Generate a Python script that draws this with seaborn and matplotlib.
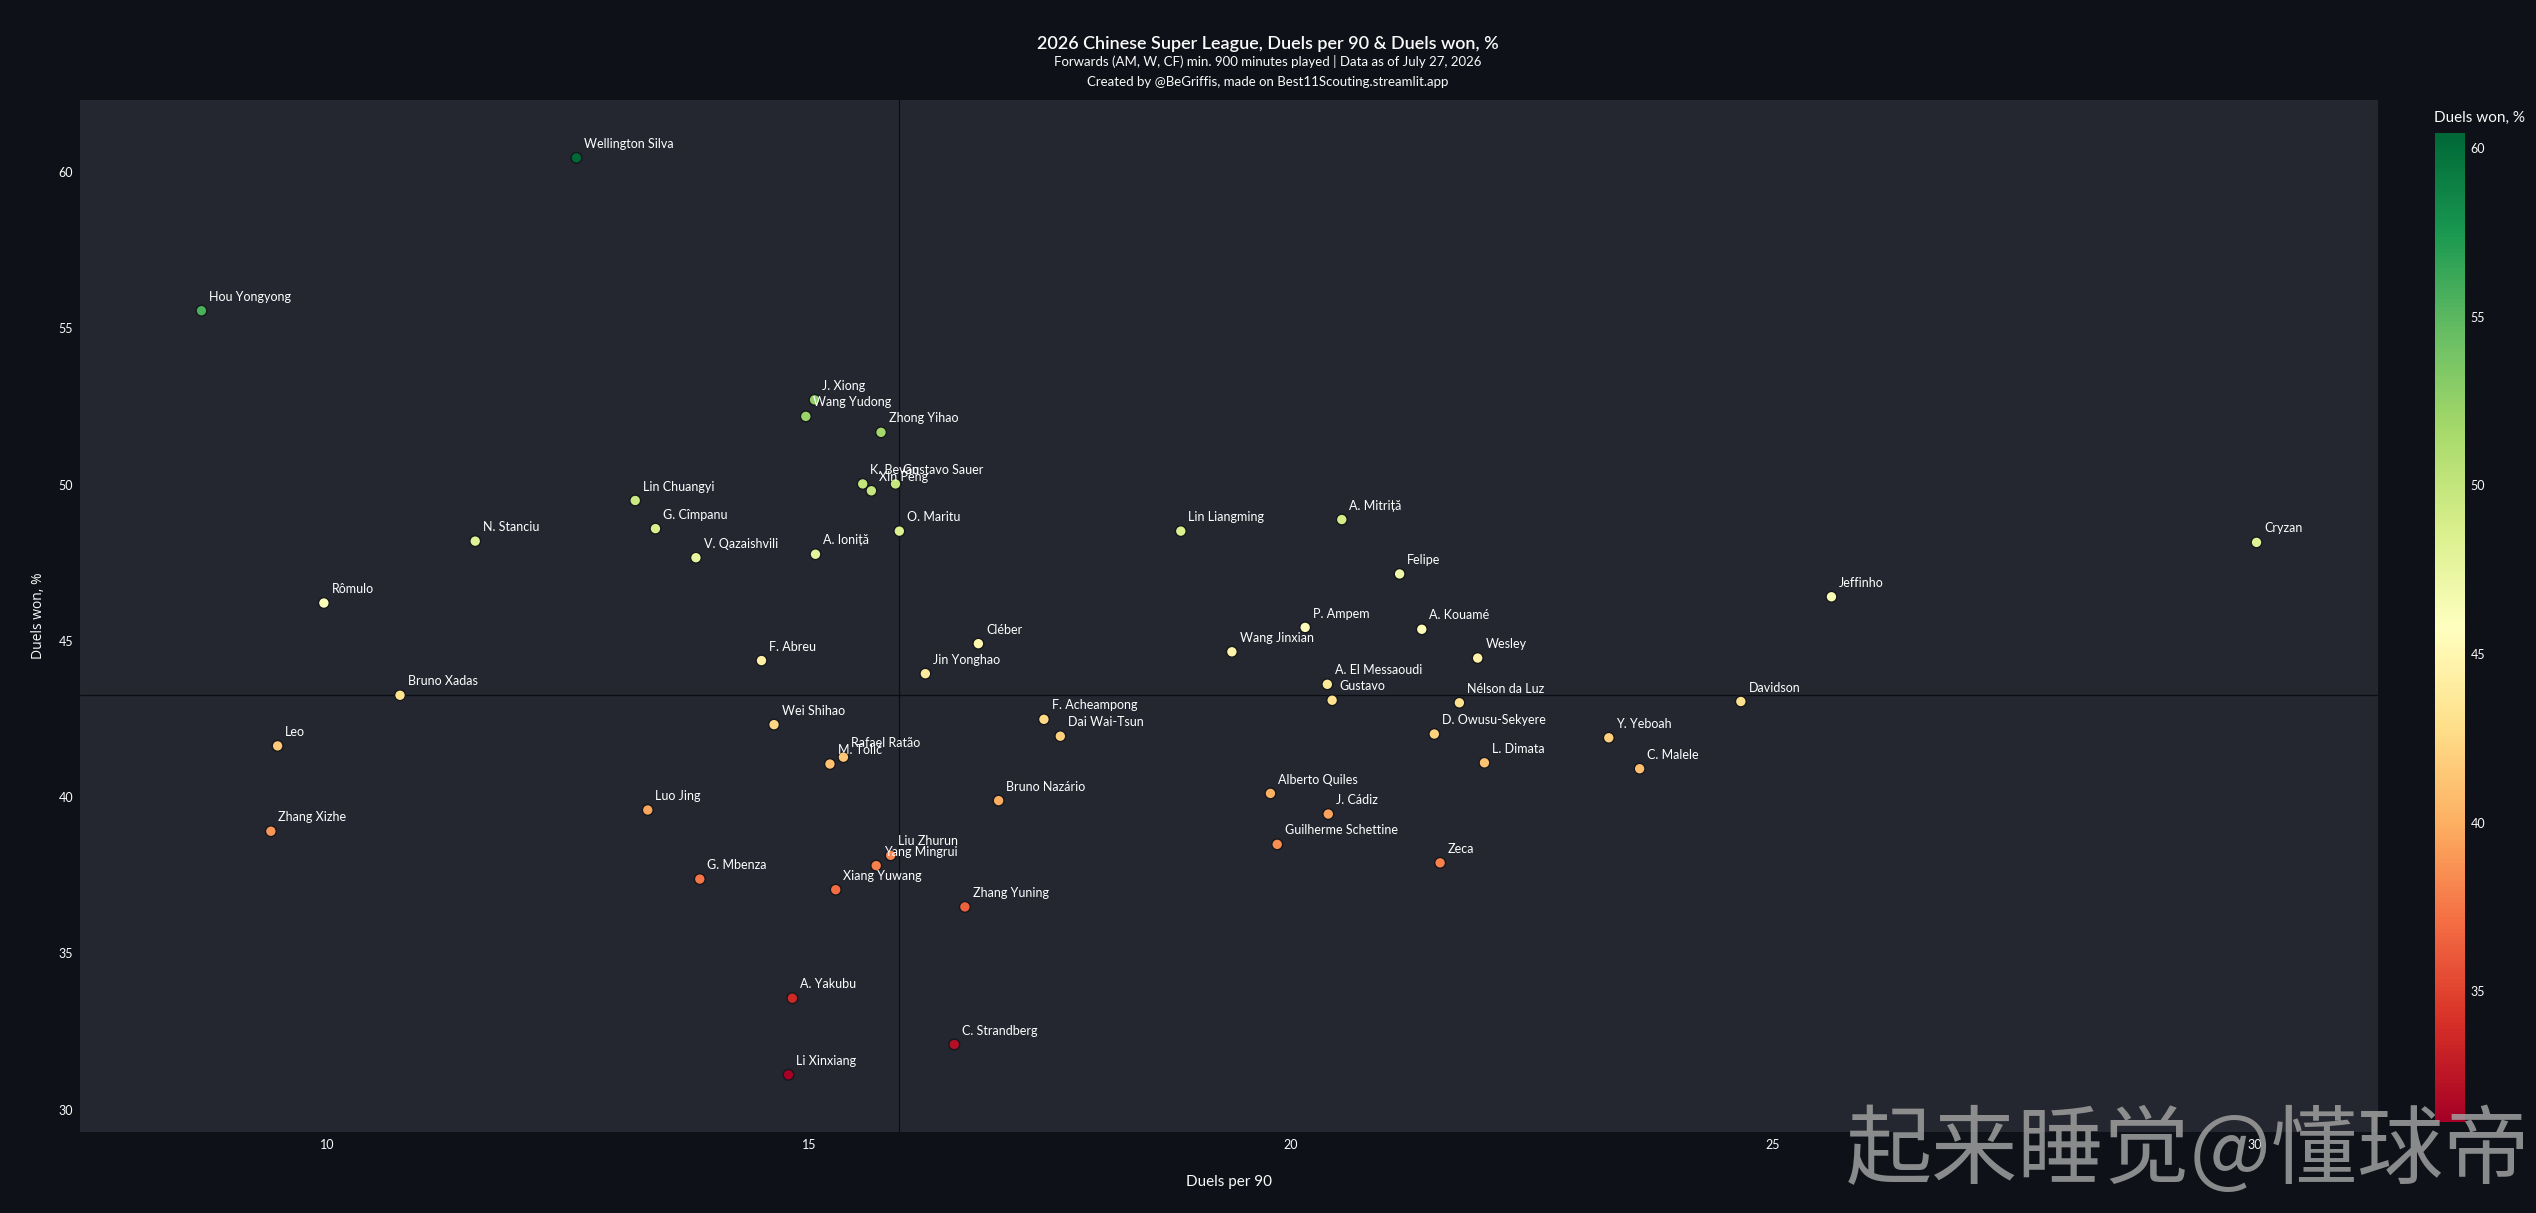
import numpy as np
import pandas as pd
import matplotlib
matplotlib.use("Agg")
import matplotlib.pyplot as plt
import seaborn as sns

# players, duels per 90, duels won %
players = ["Wellington Silva", "Hou Yongyong", "J. Xiong", "Wang Yudong", "Zhong Yihao",
           "K. Bevan", "Xin Peng", "Gustavo Sauer", "Lin Chuangyi", "G. Cîmpanu",
           "N. Stanciu", "V. Qazaishvili", "A. Ioniță", "O. Maritu", "Lin Liangming",
           "A. Mitriță", "Felipe", "Cryzan", "Jeffinho", "Rômulo",
           "F. Abreu", "Cléber", "Jin Yonghao", "Bruno Xadas", "Wei Shihao",
           "F. Acheampong", "Dai Wai-Tsun", "Leo", "Rafael Ratão", "M. Tolić",
           "Bruno Nazário", "Luo Jing", "Zhang Xizhe", "Liu Zhurun", "Yang Mingrui",
           "G. Mbenza", "Xiang Yuwang", "Zhang Yuning", "A. Yakubu", "C. Strandberg",
           "Li Xinxiang", "Wang Jinxian", "P. Ampem", "A. Kouamé", "Wesley",
           "A. El Messaoudi", "Gustavo", "Nélson da Luz", "Davidson", "D. Owusu-Sekyere",
           "Y. Yeboah", "L. Dimata", "C. Malele", "Alberto Quiles", "J. Cádiz",
           "Guilherme Schettine", "Zeca"]

duels_p90 = [12.59, 8.70, 15.06, 14.97, 15.75,
             15.56, 15.65, 15.90, 13.20, 13.41,
             11.54, 13.83, 15.07, 15.94, 18.86,
             20.53, 21.13, 30.02, 25.61, 9.97,
             14.51, 16.76, 16.21, 10.76, 14.64,
             17.44, 17.61, 9.49, 15.36, 15.22,
             16.97, 13.33, 9.42, 15.85, 15.70,
             13.87, 15.28, 16.62, 14.83, 16.51,
             14.79, 19.39, 20.15, 21.36, 21.94,
             20.38, 20.43, 21.75, 24.67, 21.49,
             23.30, 22.01, 23.62, 19.79, 20.39,
             19.86, 21.55]

duels_won = [60.45, 55.56, 52.71, 52.18, 51.67,
             50.02, 49.80, 50.02, 49.49, 48.59,
             48.19, 47.66, 47.77, 48.51, 48.51,
             48.88, 47.14, 48.15, 46.41, 46.21,
             44.37, 44.91, 43.95, 43.26, 42.32,
             42.49, 41.95, 41.64, 41.28, 41.06,
             39.89, 39.59, 38.91, 38.14, 37.81,
             37.38, 37.04, 36.49, 33.57, 32.09,
             31.12, 44.65, 45.43, 45.37, 44.45,
             43.61, 43.10, 43.02, 43.06, 42.02,
             41.90, 41.10, 40.91, 40.12, 39.46,
             38.49, 37.90]

df = pd.DataFrame({"player": players, "x": duels_p90, "y": duels_won})

BG = "#0e1117"
PANEL = "#242730"
TXT = "#fafafa"

sns.set_style("dark")
plt.rcParams["font.family"] = ["Lato", "Noto Sans CJK SC", "DejaVu Sans"]

fig = plt.figure(figsize=(25.36, 12.13), dpi=100, facecolor=BG)
ax = fig.add_axes([80 / 2536, 1 - 1132 / 1213, (2378 - 80) / 2536, (1132 - 100) / 1213])
ax.set_facecolor(PANEL)

vmin, vmax = df["y"].min(), df["y"].max()

# median lines
ax.axvline(np.median(df["x"]), color="#0c0e13", lw=0.9, zorder=1)
ax.axhline(np.median(df["y"]), color="#0c0e13", lw=0.9, zorder=1)

sns.scatterplot(data=df, x="x", y="y", hue="y", palette="RdYlGn", hue_norm=(vmin, vmax),
                s=60, edgecolor="#15171c", linewidth=1.0, legend=False, ax=ax, zorder=3)

for _, r in df.iterrows():
    ax.annotate(r["player"], (r["x"], r["y"]), xytext=(5.5, 10), textcoords="offset points",
                ha="left", va="center", fontsize=9, color="white", zorder=4)

ax.set_xlim(7.44, 31.28)
ax.set_ylim(29.29, 62.30)
ax.set_xticks([10, 15, 20, 25, 30])
ax.set_yticks([30, 35, 40, 45, 50, 55, 60])
ax.tick_params(colors=TXT, labelsize=9, length=0, pad=5)
ax.grid(False)
for sp in ax.spines.values():
    sp.set_visible(False)

ax.set_xlabel("Duels per 90", color=TXT, fontsize=11, labelpad=17)
ax.set_ylabel("Duels won, %", color=TXT, fontsize=10, family="Open Sans", labelpad=9)

# colorbar
cax = fig.add_axes([2435 / 2536, 1 - 1122 / 1213, 30 / 2536, 989 / 1213])
sm = plt.cm.ScalarMappable(cmap="RdYlGn", norm=plt.Normalize(vmin, vmax))
cb = fig.colorbar(sm, cax=cax)
cb.set_ticks([35, 40, 45, 50, 55, 60])
cb.outline.set_visible(False)
cax.tick_params(colors=TXT, labelsize=9, length=0, pad=4)
fig.text(2479 / 2536, 1 - 118 / 1213, "Duels won, %", color=TXT, fontsize=11,
         ha="center", va="center")

# titles
fig.text(0.5, 1 - 44 / 1213, "2026 Chinese Super League, Duels per 90 & Duels won, %",
         color=TXT, fontsize=13, fontweight="semibold", ha="center", va="center")
fig.text(0.5, 1 - 61 / 1213, "Forwards (AM, W, CF) min. 900 minutes played | Data as of July 27, 2026",
         color=TXT, fontsize=9.5, ha="center", va="center")
fig.text(0.5, 1 - 82 / 1213, "Created by @BeGriffis, made on Best11Scouting.streamlit.app",
         color=TXT, fontsize=9.5, ha="center", va="center")

# watermark
fig.text(2530 / 2536, 1 - 1153 / 1213, "起来睡觉@懂球帝", color="#a0a0a0", alpha=0.85,
         fontsize=62, ha="right", va="center", family=["Noto Sans CJK SC", "DejaVu Sans"])

fig.savefig("out.png", dpi=100, facecolor=BG)
